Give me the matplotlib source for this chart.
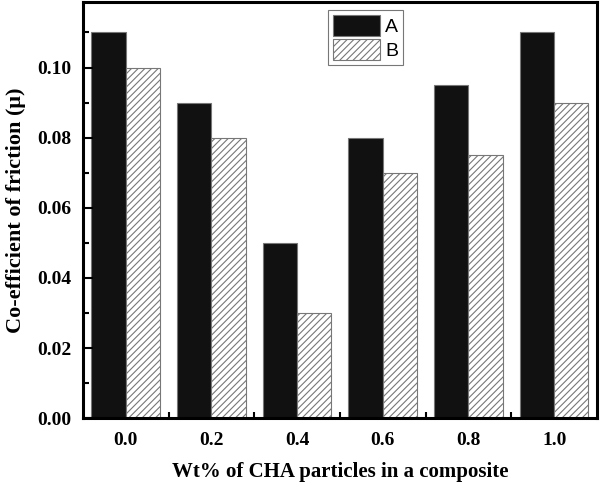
import numpy as np
import matplotlib
matplotlib.use("Agg")
import matplotlib.pyplot as plt
from matplotlib.ticker import MultipleLocator, FixedLocator

# data
wt_labels = ["0.0", "0.2", "0.4", "0.6", "0.8", "1.0"]
cof_a = [0.110, 0.090, 0.050, 0.080, 0.095, 0.110]
cof_b = [0.100, 0.080, 0.030, 0.070, 0.075, 0.090]

plt.rcParams['hatch.linewidth'] = 0.8
plt.rcParams['hatch.color'] = '#222222'

fig = plt.figure(figsize=(6, 4.84), dpi=100)
ax = fig.add_axes([0.138, 0.136, 0.857, 0.86])

x = np.arange(len(wt_labels))
w = 0.4
ax.bar(x - w/2, cof_a, w, color='#111111', edgecolor='#777777', linewidth=0.8, label='A')
ax.bar(x + w/2, cof_b, w, color='white', edgecolor='#777777', linewidth=0.8,
       hatch='/////', label='B')

ax.set_xlim(-0.5, len(wt_labels) - 0.5)

serif = 'Liberation Serif'
ax.set_xticks(x)
ax.set_xticklabels(wt_labels, family=serif, fontweight='bold', fontsize=14)
ax.xaxis.set_minor_locator(FixedLocator(x[:-1] + 0.5))
ax.tick_params(axis='x', which='major', length=0, pad=10)
ax.tick_params(axis='x', which='minor', direction='in', length=4, width=1.5)

yt = np.arange(0, 0.101, 0.02)
ax.set_yticks(yt)
ax.set_yticklabels([f"{v:.2f}" for v in yt], family=serif,
                   fontweight='bold', fontsize=14)
ax.yaxis.set_minor_locator(MultipleLocator(0.01))
ax.set_ylim(0, 0.1187)
ax.tick_params(axis='y', which='major', direction='in', length=7, width=1.5, pad=8)
ax.tick_params(axis='y', which='minor', direction='in', length=4, width=1.5)

for s in ax.spines.values():
    s.set_linewidth(2.2)

ax.set_xlabel("Wt% of CHA particles in a composite", family=serif,
              fontweight='bold', fontsize=15, labelpad=9)
ax.set_ylabel("Co-efficient of friction (\u03bc)", family=serif,
              fontweight='bold', fontsize=16, labelpad=8)

leg = ax.legend(loc='upper left', bbox_to_anchor=(0.477, 0.98), frameon=True,
                fancybox=False, edgecolor='#555555', handlelength=2.4,
                handleheight=1.3, handletextpad=0.3, borderpad=0.25,
                labelspacing=0.15, borderaxespad=0,
                prop={'family': 'Liberation Sans', 'size': 14})
leg.get_frame().set_linewidth(0.8)

fig.savefig("out.png", dpi=100)
